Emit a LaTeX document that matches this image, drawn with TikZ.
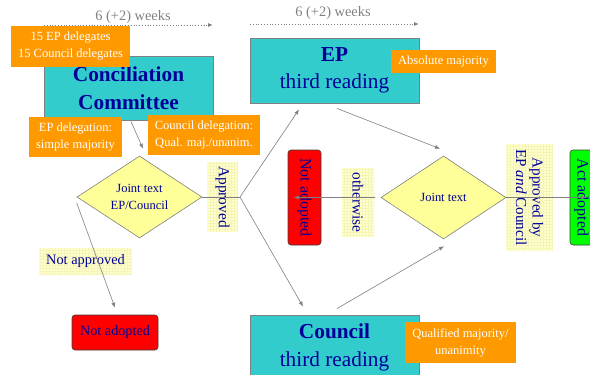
\documentclass[tikz,border=0pt]{standalone}
\usepackage{fontspec}
\setmainfont{Liberation Serif}
\usetikzlibrary{shapes.geometric,arrows.meta}
\definecolor{boxteal}{HTML}{33CCCC}
\definecolor{orng}{HTML}{FF9900}
\definecolor{navyblue}{HTML}{000099}
\definecolor{labely}{HTML}{FFFFCC}
\definecolor{gridy}{HTML}{F5F5BA}
\definecolor{diay}{HTML}{FFFF99}
\definecolor{arrowgray}{HTML}{808080}
\definecolor{actgreen}{HTML}{00FF00}
\begin{document}
\begin{tikzpicture}[x=1pt,y=-1pt,
  bigbox/.style={draw=arrowgray, line width=0.9pt, fill=boxteal, minimum width=169pt, minimum height=65pt, inner sep=0pt, align=center, text=navyblue, font=\fontsize{21.3}{27.5}\selectfont},
  orangebox/.style={fill=orng, text=white, inner sep=0pt, align=center, font=\fontsize{12.5}{17}\selectfont},
  ylabel/.style={fill=labely, inner sep=0pt, text=navyblue, align=center,
    path picture={\draw[gridy, line width=0.25pt, step=3pt] (path picture bounding box.south west) grid (path picture bounding box.north east);}},
  dia/.style={diamond, draw=arrowgray, line width=0.6pt, fill=diay, inner sep=0pt, shape aspect=1.5, align=center, text=navyblue, font=\fontsize{12.5}{17}\selectfont},
  endbox/.style={rounded corners=3pt, draw=black!75, line width=0.6pt, inner sep=0pt, text=navyblue, align=center},
  arr/.style={draw=arrowgray, line width=0.6pt, -{Latex[length=5pt,width=4pt]}},
  weekarr/.style={draw=arrowgray, line width=0.8pt, dotted, -{Latex[length=5pt,width=4pt]}},
  weektext/.style={text=arrowgray, inner sep=0pt, font=\fontsize{14.4}{16}\selectfont}
]
\useasboundingbox (0,0) rectangle (590,375);
\clip (0,0) rectangle (590,375);
\fill[white] (0,0) rectangle (590,375);

% weeks
\node[weektext] (wk1) at (133,17) {6 (+2) weeks};
\coordinate (w1a) at (44,25);
\coordinate (w1b) at (213,25);
\draw[weekarr] (w1a) -- (w1b);
\node[weektext] (wk2) at (333,13) {6 (+2) weeks};
\coordinate (w2a) at (250,24);
\coordinate (w2b) at (419,24);
\draw[weekarr] (w2a) -- (w2b);

% main boxes
\node[bigbox, minimum height=64pt] (cc) at (128.5,88) {\textbf{Conciliation}\\\textbf{Committee}};
\node[bigbox] (ep) at (334.5,70.5) {\textbf{EP}\\third reading};
\node[bigbox] (co) at (334.5,347.5) {\textbf{Council}\\third reading};

% orange notes
\node[orangebox, minimum width=119pt, minimum height=41pt] (o1) at (70.5,46.5) {15 EP delegates\\15 Council delegates};
\node[orangebox, minimum width=105pt, minimum height=23pt] (o2) at (443.5,61.5) {Absolute majority};
\node[orangebox, minimum width=93pt, minimum height=40pt] (o3) at (75.5,137) {EP delegation:\\simple majority};
\node[orangebox, minimum width=112pt, minimum height=40pt] (o4) at (204,135) {Council delegation:\\Qual. maj./unanim.};
\node[orangebox, minimum width=111pt, minimum height=41pt] (o5) at (460.5,342.5) {Qualified majority/\\unanimity};

% diamonds
\node[dia, minimum width=125pt, minimum height=82pt] (d1) at (139.5,197) {Joint text\\EP/Council};
\node[dia, minimum width=125pt, minimum height=83pt] (d2) at (443.5,197.5) {Joint text};

% labels
\node[ylabel, rotate=-90, minimum width=70pt, minimum height=31pt, font=\fontsize{15.4}{17}\selectfont] (lap) at (222.5,197) {Approved};
\node[ylabel, minimum width=93pt, minimum height=27pt, font=\fontsize{14.4}{16}\selectfont] (lna) at (85.5,261.5) {Not approved};
\node[ylabel, rotate=-90, minimum width=69pt, minimum height=32pt, font=\fontsize{15.4}{17}\selectfont] (low) at (358,202.5) {otherwise};
\node[ylabel, rotate=-90, minimum width=107pt, minimum height=47pt, font=\fontsize{15.2}{16.5}\selectfont] (lab) at (529.5,197.5) {Approved by\\EP \textit{and} Council};

% end boxes
\node[endbox, fill=red, minimum width=86pt, minimum height=35pt, font=\fontsize{14.2}{16}\selectfont] (na1) at (115,332.5) {Not adopted};
\node[endbox, fill=red, rotate=-90, minimum width=95pt, minimum height=33pt, font=\fontsize{15.9}{18}\selectfont] (na2) at (304.5,197.5) {Not adopted};
\node[endbox, fill=actgreen, rotate=-90, minimum width=95pt, minimum height=23pt, font=\fontsize{15.9}{18}\selectfont] (act) at (581.5,197.5) {Act adopted};

% connectors
\coordinate (jn) at (240,197);
\draw[arr] ([xshift=2.5pt,yshift=-1pt]cc.south) -- ([xshift=3.5pt,yshift=7pt]d1.north);
\draw[draw=arrowgray, line width=0.6pt] (d1.east) -- (jn);
\draw[arr] (jn) -- ([xshift=-35.5pt,yshift=-6pt]ep.south);
\draw[arr] (jn) -- ([xshift=-31.5pt,yshift=8pt]co.north);
\draw[arr] ([yshift=-6pt]d1.west) -- ([yshift=7pt]na1.north);
\draw[arr] ([xshift=2.5pt,yshift=-5pt]ep.south) -- ([xshift=-3.5pt,yshift=7pt]d2.north);
\draw[arr] ([xshift=2.5pt,yshift=6pt]co.north) -- ([xshift=0.5pt,yshift=-7pt]d2.south);
\draw[arr] ([xshift=-6pt]d2.west) -- ([xshift=6pt]na2.south);
\draw[arr] (d2.east) -- ([xshift=-7pt]act.north);
\end{tikzpicture}
\end{document}
